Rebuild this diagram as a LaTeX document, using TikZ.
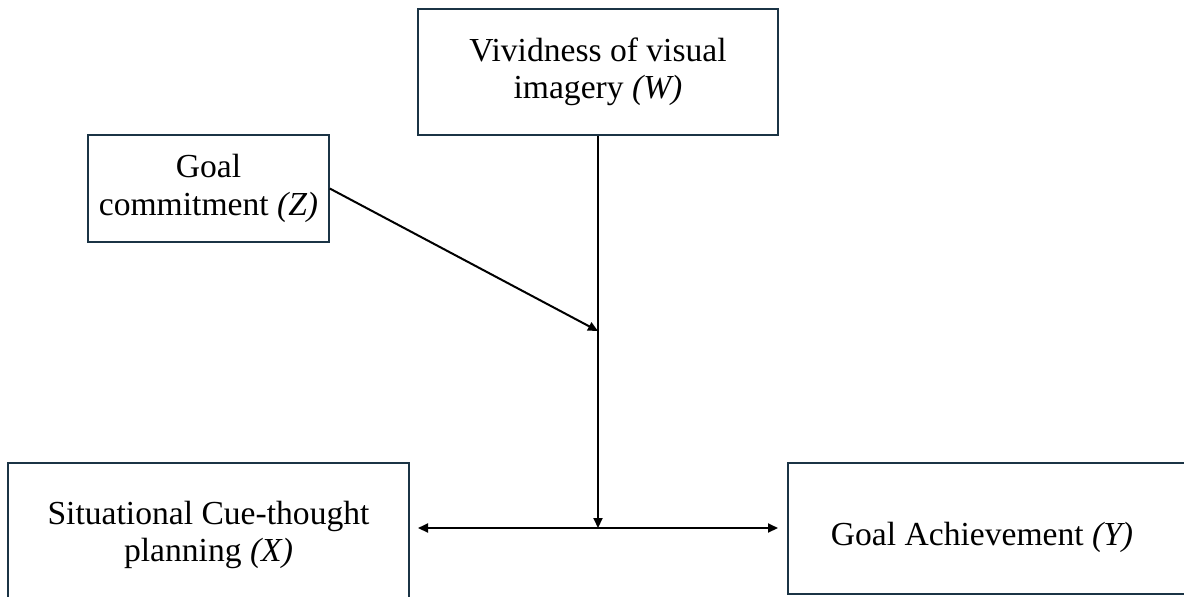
\documentclass[tikz,border=0pt]{standalone}
\usepackage{fontspec}
\setmainfont{Liberation Serif}
\usetikzlibrary{arrows.meta}
\definecolor{boxline}{HTML}{1B3445}
\tikzset{
  box/.style={draw=boxline, line width=0.75pt, rectangle, inner sep=0pt, align=center,
    font=\fontsize{16.8}{18.6}\selectfont},
  lbl/.style={inner sep=0pt, align=center, font=\fontsize{16.8}{18.6}\selectfont},
  arr/.style={draw=black, line width=1pt, -{Triangle[length=5pt,width=4.5pt]}},
  darr/.style={draw=black, line width=1pt, {Triangle[length=5pt,width=4.5pt]}-{Triangle[length=5pt,width=4.5pt]}}
}
\begin{document}
\begin{tikzpicture}[x=0.5pt,y=-0.5pt]
\useasboundingbox (0,0) rectangle (1184,596);
\clip (0,0) rectangle (1184,596);
\node[box, minimum width=180pt, minimum height=63pt] (W) at (598,72) {Vividness of visual\\imagery \textit{(W)}};
\node[box, minimum width=120.5pt, minimum height=53.5pt] (Z) at (208.5,188.5) {Goal\\commitment \textit{(Z)}};
\node[box, minimum width=200.5pt, minimum height=72pt] (X) at (208.5,535) {Situational Cue-thought\\planning \textit{(X)}};
\node[box, minimum width=206pt, minimum height=65.5pt] (Y) at (994,528.5) {};
\node[lbl] (Ylbl) at (982,537) {Goal Achievement \textit{(Y)}};
\coordinate (mid) at (598,528);
\coordinate (join) at (598,331);
\coordinate (hl) at (418,528);
\coordinate (hr) at (778,528);
\draw[arr] (W.south) -- (mid);
\draw[arr] (Z.east) -- (join);
\draw[darr] (hl) -- (hr);
\end{tikzpicture}
\end{document}
